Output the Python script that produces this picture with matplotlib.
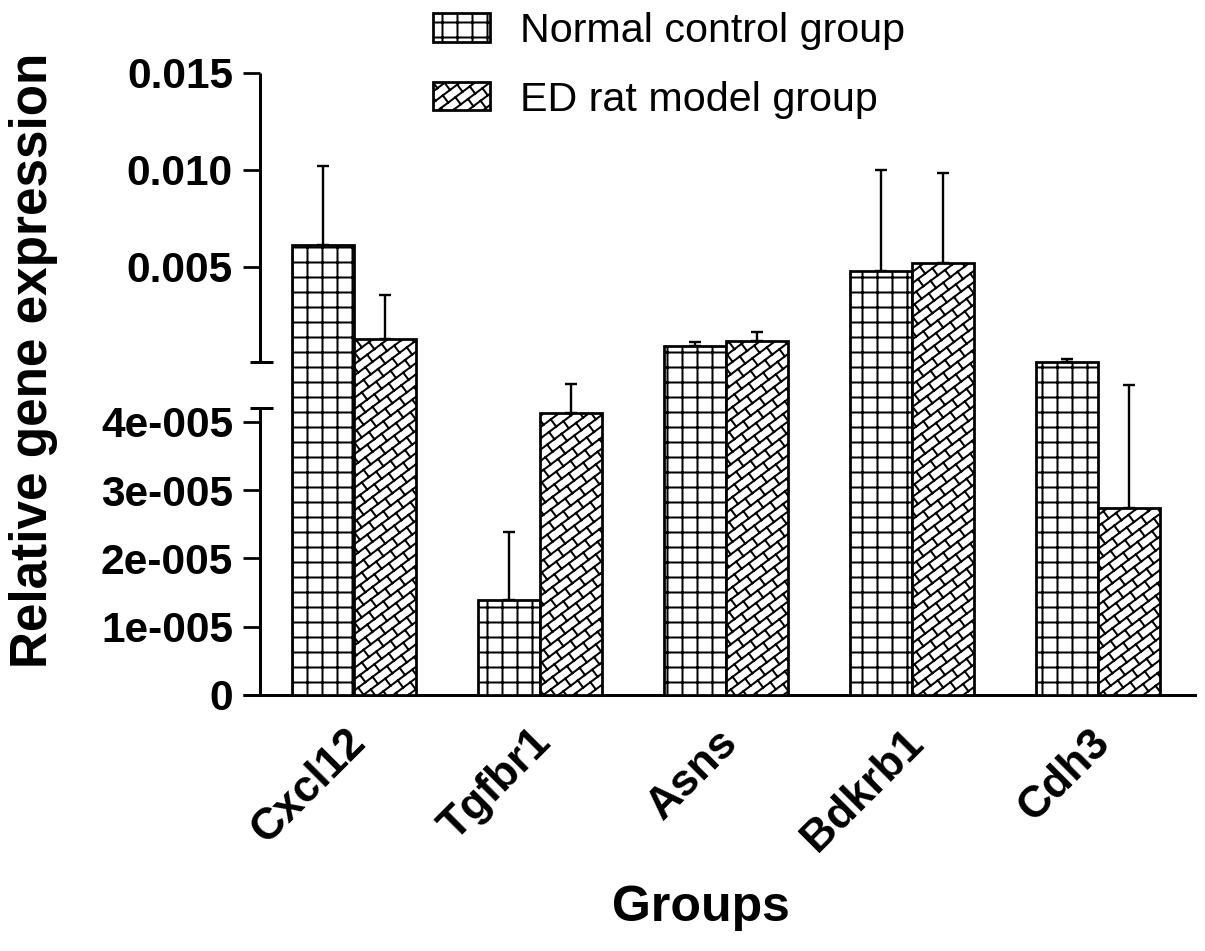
import numpy as np
import matplotlib
matplotlib.use("Agg")
import matplotlib.pyplot as plt
from matplotlib import hatch as mhatch
from matplotlib.path import Path
from matplotlib.ticker import NullLocator
from matplotlib.transforms import ScaledTranslation

genes = ["Cxcl12", "Tgfbr1", "Asns", "Bdkrb1", "Cdh3"]
normal_mean = [0.00613, 1.39e-5, 0.00093, 0.00479, 0.00012]
normal_err = [0.00407, 1.0e-5, 0.00020, 0.00521, 0.00014]
ed_mean = [0.00129, 4.13e-5, 0.00119, 0.00521, 2.73e-5]
ed_err = [0.00227, 3.07e-5, 0.00046, 0.00464, 4.37e-5]
yticks = [0, 1e-5, 2e-5, 3e-5, 4e-5, 0.005, 0.010, 0.015]
ytick_labels = ["0", "1e-005", "2e-005", "3e-005", "4e-005", "0.005", "0.010", "0.015"]

# broken y axis: 0..low_top below, high_bot..y_top above
low_top = 4.2e-5
high_bot = 1e-4
y_top = 0.015
seg = [287, 46, 289]   # pixel heights of lower part, gap, upper part


def fwd(v):
    v = np.asarray(v, float)
    a = seg[0] / low_top
    b = seg[1] / (high_bot - low_top)
    c = seg[2] / (y_top - high_bot)
    return np.where(v <= low_top, v * a,
                    np.where(v <= high_bot, seg[0] + (v - low_top) * b,
                             seg[0] + seg[1] + (v - high_bot) * c))


def inv(u):
    u = np.asarray(u, float)
    a = seg[0] / low_top
    b = seg[1] / (high_bot - low_top)
    c = seg[2] / (y_top - high_bot)
    return np.where(u <= seg[0], u / a,
                    np.where(u <= seg[0] + seg[1], low_top + (u - seg[0]) / b,
                             high_bot + (u - seg[0] - seg[1]) / c))


def brick_segments():
    # diagonal brick courses along (4,3), tiles the unit hatch cell
    d = np.array([4.0, 3.0]) / 5
    n = np.array([-3.0, 4.0]) / 5
    row = 0.1
    brick = 0.2
    segs = []
    for m in range(-7, 10):
        s0 = m * row
        segs.append([-0.2 * d + s0 * n, 1.6 * d + s0 * n])
        for j in range(-2, 10):
            t = (m % 2) * brick / 2 + j * brick
            segs.append([t * d + s0 * n, t * d + (s0 + row) * n])
    return np.array(segs)


class BrickHatch(mhatch.HatchPatternBase):
    """Prism style brick pattern, drawn for '/'."""

    def __init__(self, hatch, density):
        self.segs = brick_segments() if hatch.count('/') else np.empty((0, 2, 2))
        self.num_vertices = 2 * len(self.segs)

    def set_vertices_and_codes(self, vertices, codes):
        vertices[:] = self.segs.reshape(-1, 2)
        codes[0::2] = Path.MOVETO
        codes[1::2] = Path.LINETO


mhatch._hatch_types[mhatch._hatch_types.index(mhatch.NorthEastHatch)] = BrickHatch

plt.rcParams['font.family'] = ['Liberation Sans', 'DejaVu Sans']
plt.rcParams['hatch.linewidth'] = 1.6

W, H = 1205, 951
fig = plt.figure(figsize=(W / 90, H / 90), dpi=90)
ax = fig.add_axes([260 / W, 1 - 695 / H, 935 / W, 622 / H])
ax.set_yscale('function', functions=(fwd, inv))

x = np.arange(len(genes))
w = 0.333
b1 = ax.bar(x - w / 2, normal_mean, w, color='white', edgecolor='black',
            linewidth=2.2, hatch='+', label='Normal control group', zorder=3)
b2 = ax.bar(x + w / 2, ed_mean, w, color='white', edgecolor='black',
            linewidth=2.2, hatch='/', label='ED rat model group', zorder=3)
ax.errorbar(x - w / 2, normal_mean, yerr=[np.zeros(len(genes)), normal_err],
            fmt='none', ecolor='black', elinewidth=1.9, capsize=5, capthick=1.9, zorder=2)
ax.errorbar(x + w / 2, ed_mean, yerr=[np.zeros(len(genes)), ed_err],
            fmt='none', ecolor='black', elinewidth=1.9, capsize=5, capthick=1.9, zorder=2)

ax.set_xlim(-0.505, 4.52)
ax.set_ylim(0, y_top)

for s in ['top', 'right', 'left']:
    ax.spines[s].set_visible(False)
ax.spines['bottom'].set_linewidth(2.4)

ax.set_yticks(yticks, ytick_labels)
ax.yaxis.set_minor_locator(NullLocator())
ax.tick_params(axis='y', direction='out', length=13.6, width=2.2, pad=8, labelsize=34)
for lbl in ax.get_yticklabels():
    lbl.set_fontweight('bold')
ax.set_xticks(x, genes, rotation=45, ha='right', va='center',
              rotation_mode='anchor', fontsize=35.5, fontweight='bold')
ax.tick_params(axis='x', length=0, pad=33)
shift = ScaledTranslation(5 / 90, 0, fig.dpi_scale_trans)
for lbl in ax.get_xticklabels():
    lbl.set_transform(lbl.get_transform() + shift)

# left axis in two pieces with end caps
yax = ax.get_yaxis_transform()
kw = dict(color='black', lw=2.4, clip_on=False, solid_capstyle='butt')
ax.plot([0, 0], [0, low_top], transform=yax, **kw)
ax.plot([0, 0], [high_bot, y_top], transform=yax, **kw)
cap = [-10 / 935, 13 / 935]
ax.plot(cap, [low_top, low_top], transform=yax, **kw)
ax.plot(cap, [high_bot, high_bot], transform=yax, **kw)
ax.plot([-17 / 935, 0], [0, 0], transform=ax.transAxes, **kw)

ax.set_ylabel('Relative gene expression', fontsize=41, fontweight='bold')
ax.yaxis.set_label_coords((58 - 260) / 935, (695 - 360) / 622)
ax.set_xlabel('Groups', fontsize=40, fontweight='bold')
ax.xaxis.set_label_coords((701 - 260) / 935, (695 - 885) / 622)

fig.legend(handles=[b1, b2], loc='upper left', bbox_to_anchor=(433 / W, 1 - 12 / H),
           frameon=False, fontsize=33, borderpad=0, borderaxespad=0,
           handlelength=1.37, handleheight=0.68, handletextpad=0.73, labelspacing=0.74)

fig.savefig('out.png', dpi=90)
